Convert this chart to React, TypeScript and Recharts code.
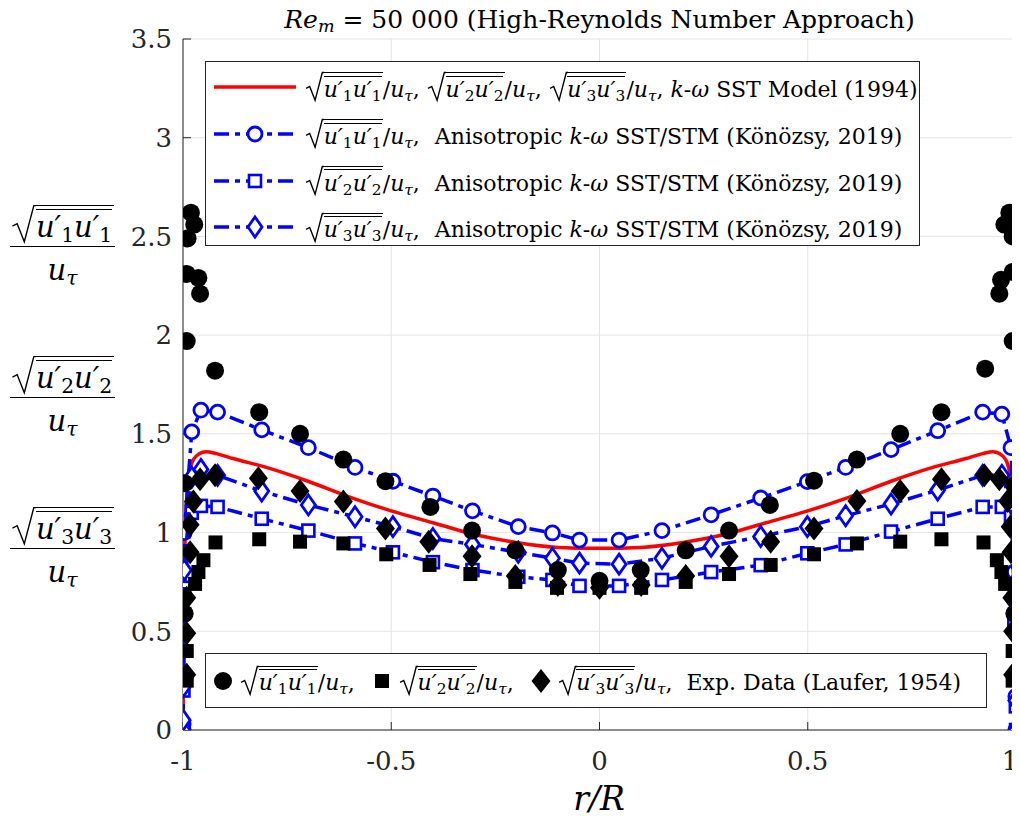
import React from 'react';
import { ScatterChart, Scatter, XAxis, YAxis, CartesianGrid } from 'recharts';

const FONT = '"DejaVu Serif", serif';
const BLUE = '#0000ff';
const RED = '#ff0000';
const AX = '#262626';

// k-omega SST (1994): same profile for all three components
const sstX = [-1, -0.999, -0.997, -0.994, -0.99, -0.985, -0.975, -0.96, -0.945, -0.92, -0.88, -0.8, -0.7, -0.6, -0.5, -0.4, -0.3, -0.2, -0.1, 0, 0.1, 0.2, 0.3, 0.4, 0.5, 0.6, 0.7, 0.8, 0.88, 0.92, 0.945, 0.96, 0.975, 0.985, 0.99, 0.994, 0.997, 0.999, 1];
const sstY = [0, 0.3, 0.75, 1.05, 1.2, 1.3, 1.37, 1.4, 1.41, 1.4, 1.375, 1.33, 1.26, 1.18, 1.11, 1.05, 0.99, 0.95, 0.925, 0.92, 0.925, 0.95, 0.99, 1.05, 1.11, 1.18, 1.26, 1.33, 1.375, 1.4, 1.41, 1.4, 1.37, 1.3, 1.2, 1.05, 0.75, 0.3, 0];

// anisotropic k-omega SST/STM (Konozsy, 2019)
const aniX = [-1, -0.9996, -0.999, -0.997, -0.979, -0.957, -0.917, -0.811, -0.699, -0.587, -0.496, -0.4, -0.305, -0.195, -0.113, -0.048, 0.047, 0.15, 0.268, 0.387, 0.499, 0.591, 0.7, 0.812, 0.92, 0.966, 0.988, 0.996, 0.9996, 1];
const aniU1 = [0, 0.03, 0.28, 1.0, 1.51, 1.62, 1.61, 1.52, 1.43, 1.33, 1.26, 1.185, 1.11, 1.03, 0.998, 0.962, 0.962, 1.01, 1.09, 1.175, 1.258, 1.33, 1.42, 1.516, 1.61, 1.6, 1.43, 0.8, 0.17, 0];
const aniU2 = [0, 0.02, 0.2, 0.72, 1.1, 1.135, 1.13, 1.07, 1.01, 0.945, 0.9, 0.85, 0.81, 0.776, 0.76, 0.73, 0.73, 0.76, 0.8, 0.835, 0.895, 0.94, 1.005, 1.07, 1.13, 1.13, 1.08, 0.55, 0.12, 0];
const aniU3 = [0, 0.05, 0.22, 0.81, 1.28, 1.32, 1.29, 1.21, 1.14, 1.08, 1.03, 0.97, 0.94, 0.9, 0.87, 0.845, 0.84, 0.87, 0.93, 0.98, 1.03, 1.085, 1.145, 1.215, 1.29, 1.29, 1.15, 0.65, 0.15, 0];

// Laufer (1954) experiment
const expU1X = [-0.996, -0.996, -0.991, -0.991, -0.989, -0.981, -0.973, -0.963, -0.959, -0.923, -0.817, -0.719, -0.615, -0.514, -0.406, -0.306, -0.202, -0.1, 0, 0.099, 0.207, 0.311, 0.409, 0.515, 0.618, 0.722, 0.821, 0.926, 0.96, 0.964, 0.972, 0.984, 0.992, 0.992, 0.992, 0.996, 0.996];
const expU1Y = [0.59, 1.25, 1.97, 2.31, 2.49, 2.62, 2.56, 2.29, 2.21, 1.82, 1.61, 1.5, 1.37, 1.26, 1.13, 1.01, 0.91, 0.81, 0.756, 0.81, 0.91, 1.01, 1.14, 1.263, 1.37, 1.5, 1.61, 1.83, 2.21, 2.28, 2.56, 2.62, 2.5, 2.32, 1.97, 1.24, 0.59];
const expU2X = [-0.991, -0.991, -0.971, -0.963, -0.951, -0.922, -0.817, -0.719, -0.615, -0.512, -0.408, -0.31, -0.202, -0.102, 0, 0.1, 0.207, 0.311, 0.411, 0.515, 0.618, 0.722, 0.821, 0.922, 0.954, 0.965, 0.974, 0.992, 0.992];
const expU2Y = [0.25, 0.4, 0.74, 0.8, 0.86, 0.95, 0.966, 0.954, 0.945, 0.89, 0.836, 0.79, 0.75, 0.72, 0.72, 0.72, 0.75, 0.79, 0.836, 0.89, 0.945, 0.954, 0.966, 0.95, 0.86, 0.8, 0.74, 0.4, 0.25];
const expU3X = [-0.991, -0.991, -0.991, -0.983, -0.983, -0.975, -0.959, -0.923, -0.819, -0.719, -0.615, -0.514, -0.41, -0.306, -0.202, -0.1, 0, 0.1, 0.207, 0.311, 0.411, 0.515, 0.618, 0.722, 0.821, 0.924, 0.96, 0.98, 0.986, 0.988, 0.99, 0.992, 0.992];
const expU3Y = [0.28, 0.49, 0.67, 0.9, 1.04, 1.157, 1.27, 1.29, 1.275, 1.21, 1.157, 1.02, 0.954, 0.88, 0.78, 0.735, 0.72, 0.735, 0.78, 0.88, 0.954, 1.02, 1.16, 1.21, 1.27, 1.29, 1.27, 1.16, 1.03, 0.9, 0.67, 0.5, 0.28];

const xTicks = [-1, -0.5, 0, 0.5, 1];
const yTicks = [0, 0.5, 1, 1.5, 2, 2.5, 3, 3.5];

const zip = (xs: number[], ys: number[]) => xs.map((x, i) => ({ x, y: ys[i] }));

const sstData = zip(sstX, sstY);
const ani1 = zip(aniX, aniU1);
const ani2 = zip(aniX, aniU2);
const ani3 = zip(aniX, aniU3);
const exp1 = zip(expU1X, expU1Y);
const exp2 = zip(expU2X, expU2Y);
const exp3 = zip(expU3X, expU3Y);

const dashDot = '15 6 5 6';

// marker shapes
const NoMark = () => <g />;
const OpenCircle = (p: any) => <circle cx={p.cx} cy={p.cy} r={7} fill="#fff" stroke={BLUE} strokeWidth={2.8} />;
const OpenSquare = (p: any) => <rect x={p.cx - 6} y={p.cy - 6} width={12} height={12} fill="#fff" stroke={BLUE} strokeWidth={2.6} />;
const OpenDiamond = (p: any) => (
  <polygon points={`${p.cx},${p.cy - 10} ${p.cx + 7},${p.cy} ${p.cx},${p.cy + 10} ${p.cx - 7},${p.cy}`} fill="#fff" stroke={BLUE} strokeWidth={2.8} />
);
const DotMark = (p: any) => <circle cx={p.cx} cy={p.cy} r={9} fill="#000" />;
const SquareMark = (p: any) => <rect x={p.cx - 7} y={p.cy - 7} width={14} height={14} fill="#000" />;
const DiamondMark = (p: any) => (
  <polygon points={`${p.cx},${p.cy - 12} ${p.cx + 9.5},${p.cy} ${p.cx},${p.cy + 12} ${p.cx - 9.5},${p.cy}`} fill="#000" />
);

// bottom tick labels; the last one is nudged so it stays on the page
const XTick = (p: any) => {
  const v = p.payload.value;
  return (
    <text x={v === 1 ? p.x - 6 : p.x} y={p.y} dy="0.71em" textAnchor="middle" fill={AX} fontSize={26} fontFamily={FONT}>
      {String(v)}
    </text>
  );
};

function Sub({ children }: { children: React.ReactNode }) {
  return <span style={{ fontSize: '0.7em', verticalAlign: '-0.25em', lineHeight: 0 }}>{children}</span>;
}

function Utau() {
  return <span style={{ fontStyle: 'italic' }}>u<Sub>τ</Sub></span>;
}

function Root({ i }: { i: number }) {
  return (
    <span style={{ display: 'inline-block', position: 'relative', paddingLeft: '0.8em', lineHeight: 1.05 }}>
      <svg viewBox="0 0 10 30" preserveAspectRatio="none"
        style={{ position: 'absolute', left: 0, top: 0, width: '0.82em', height: '100%', overflow: 'visible' }}>
        <polyline points="0.6,17 2.6,15 5.6,29.5 9.6,0.5 10.5,0.5" fill="none" stroke="#000" strokeWidth={1.4} vectorEffect="non-scaling-stroke" />
      </svg>
      <span style={{ display: 'inline-block', borderTop: '1.3px solid #000', paddingTop: '0.12em' }}>
        <span style={{ display: 'inline-block', borderTop: '1.2px solid #000', paddingTop: '0.05em', fontStyle: 'italic', margin: '0 0.05em' }}>
          u′<Sub><span style={{ fontStyle: 'normal' }}>{i}</span></Sub>u′<Sub><span style={{ fontStyle: 'normal' }}>{i}</span></Sub>
        </span>
      </span>
    </span>
  );
}

function Ratio({ i }: { i: number }) {
  return <span><Root i={i} />/<Utau /></span>;
}

function Kw() {
  return <span><i>k</i>-<i>ω</i></span>;
}

function Sample({ children, dashed, color }: { children?: React.ReactNode; dashed: boolean; color: string }) {
  return (
    <svg width={82} height={30} style={{ display: 'block', flex: 'none' }}>
      <line x1={0} y1={15} x2={82} y2={15} stroke={color} strokeWidth={3.5} strokeDasharray={dashed ? dashDot : undefined} />
      {children}
    </svg>
  );
}

function Mark({ children }: { children: React.ReactNode }) {
  return <svg width={26} height={30} style={{ display: 'inline-block', verticalAlign: 'middle', flex: 'none' }}>{children}</svg>;
}

function Frac({ i, top }: { i: number; top: number }) {
  return (
    <div style={{ position: 'absolute', left: 2, top, width: 105, borderTop: '1.6px solid #000', fontSize: 29 }}>
      <div style={{ position: 'absolute', bottom: 5, left: 0, right: 0, textAlign: 'center', lineHeight: 1 }}><Root i={i} /></div>
      <div style={{ position: 'absolute', top: 9, left: 0, right: 0, textAlign: 'center', lineHeight: 1 }}><Utau /></div>
    </div>
  );
}

const rowStyle: React.CSSProperties = { display: 'flex', alignItems: 'center', height: 46.7, whiteSpace: 'nowrap' };

export default function App() {
  return (
    <div style={{ position: 'relative', width: 1012, height: 818, fontFamily: FONT, color: '#000', background: '#fff' }}>
      <ScatterChart width={1012} height={818} margin={{ top: 31, right: 4, bottom: 46, left: 115 }}>
        <CartesianGrid stroke="#e3e3e3" strokeWidth={1} />
        <XAxis type="number" dataKey="x" domain={[-1, 1]} ticks={xTicks} allowDataOverflow
          tickSize={-8} tickMargin={30} height={50}
          axisLine={{ stroke: AX }} tickLine={{ stroke: AX }}
          tick={XTick} />
        <XAxis xAxisId="top" orientation="top" type="number" domain={[-1, 1]} ticks={xTicks}
          tickSize={-8} height={0} tick={false} axisLine={{ stroke: AX }} tickLine={{ stroke: AX }} />
        <YAxis type="number" dataKey="y" domain={[0, 3.5]} ticks={yTicks} allowDataOverflow
          tickSize={-8} tickMargin={19} width={60}
          axisLine={{ stroke: AX }} tickLine={{ stroke: AX }}
          tick={{ fill: AX, fontSize: 26, fontFamily: FONT }} />
        <YAxis yAxisId="right" orientation="right" type="number" domain={[0, 3.5]} ticks={yTicks}
          tickSize={-8} width={0} tick={false} axisLine={{ stroke: AX }} tickLine={{ stroke: AX }} />

        <Scatter data={sstData} shape={NoMark} line={{ stroke: RED, strokeWidth: 3.5 }} lineJointType="monotoneX" isAnimationActive={false} />
        <Scatter data={ani1} shape={OpenCircle} line={{ stroke: BLUE, strokeWidth: 3.5, strokeDasharray: dashDot }} isAnimationActive={false} />
        <Scatter data={ani2} shape={OpenSquare} line={{ stroke: BLUE, strokeWidth: 3.5, strokeDasharray: dashDot }} isAnimationActive={false} />
        <Scatter data={ani3} shape={OpenDiamond} line={{ stroke: BLUE, strokeWidth: 3.5, strokeDasharray: dashDot }} isAnimationActive={false} />
        <Scatter data={exp1} shape={DotMark} isAnimationActive={false} />
        <Scatter data={exp2} shape={SquareMark} isAnimationActive={false} />
        <Scatter data={exp3} shape={DiamondMark} isAnimationActive={false} />
      </ScatterChart>

      {/* title */}
      <div style={{ position: 'absolute', left: 175, width: 833, top: -1, textAlign: 'center', fontSize: 25, lineHeight: 1, whiteSpace: 'nowrap' }}>
        <i>Re</i><Sub><i>m</i></Sub> = 50 000 (High-Reynolds Number Approach)
      </div>

      {/* y label */}
      <Frac i={1} top={238} />
      <Frac i={2} top={389} />
      <Frac i={3} top={540} />

      {/* x label */}
      <div style={{ position: 'absolute', left: 491, width: 200, top: 774, textAlign: 'center', fontSize: 33, lineHeight: 1, fontStyle: 'italic' }}>
        r/R
      </div>

      {/* model legend */}
      <div style={{ position: 'absolute', left: 197, top: 53, width: 715, height: 185, boxSizing: 'border-box', border: `1px solid ${AX}`, background: '#fff', paddingLeft: 8, paddingTop: 2, fontSize: 22 }}>
        <div style={rowStyle}>
          <Sample dashed={false} color={RED} />
          <span style={{ marginLeft: 9 }}><Ratio i={1} />, <Ratio i={2} />, <Ratio i={3} />, <Kw /> SST Model (1994)</span>
        </div>
        {[1, 2, 3].map((i) => (
          <div key={i} style={rowStyle}>
            <Sample dashed color={BLUE}>
              {i === 1 && <OpenCircle cx={41} cy={15} />}
              {i === 2 && <OpenSquare cx={41} cy={15} />}
              {i === 3 && <OpenDiamond cx={41} cy={15} />}
            </Sample>
            <span style={{ marginLeft: 9 }}><Ratio i={i} />,<span style={{ marginLeft: 15 }}>Anisotropic <Kw /> SST/STM (Könözsy, 2019)</span></span>
          </div>
        ))}
      </div>

      {/* experiment legend */}
      <div style={{ position: 'absolute', left: 197, top: 645, width: 782, height: 55, boxSizing: 'border-box', border: `1px solid ${AX}`, background: '#fff', paddingLeft: 4, fontSize: 22, display: 'flex', alignItems: 'center', whiteSpace: 'nowrap' }}>
        <Mark><DotMark cx={13} cy={15} /></Mark>
        <span style={{ marginLeft: 4 }}><Ratio i={1} />,</span>
        <span style={{ marginLeft: 14 }}><Mark><SquareMark cx={13} cy={15} /></Mark></span>
        <span style={{ marginLeft: 4 }}><Ratio i={2} />,</span>
        <span style={{ marginLeft: 14 }}><Mark><DiamondMark cx={13} cy={15} /></Mark></span>
        <span style={{ marginLeft: 4 }}><Ratio i={3} />,<span style={{ marginLeft: 14 }}>Exp. Data (Laufer, 1954)</span></span>
      </div>
    </div>
  );
}
